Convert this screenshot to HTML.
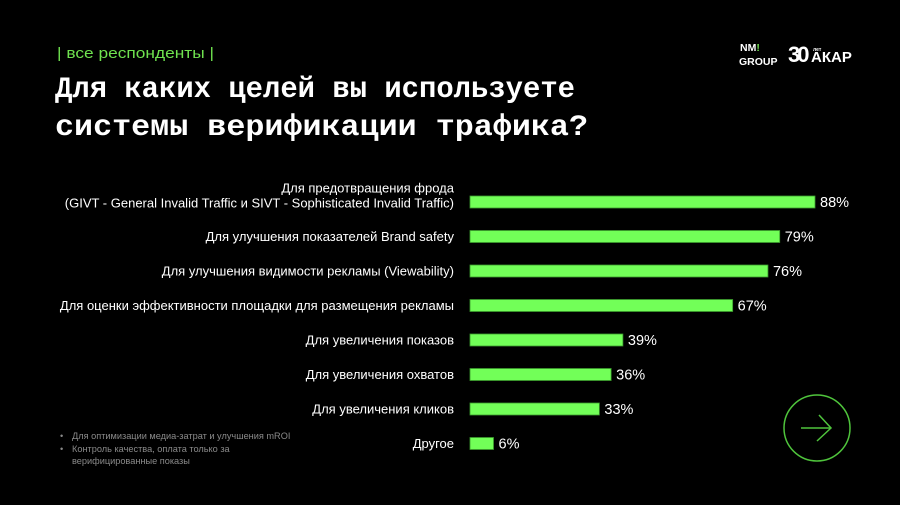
<!DOCTYPE html>
<html><head><meta charset="utf-8"><style>
body{margin:0;background:#000;width:900px;height:505px;overflow:hidden;font-family:"Liberation Sans",sans-serif}
svg{display:block}
</style></head><body>
<svg width="900" height="505" viewBox="0 0 900 505">
<rect width="900" height="505" fill="#000"/>
<text x="57" y="58" fill="#6fe24f" font-size="14.5" textLength="157" lengthAdjust="spacingAndGlyphs">| все респонденты |</text>
<text x="55" y="97" fill="#fff" font-size="30" font-weight="bold" font-family="Liberation Mono, monospace" textLength="520" lengthAdjust="spacingAndGlyphs">Для каких целей вы используете</text>
<text x="55" y="135" fill="#fff" font-size="30" font-weight="bold" font-family="Liberation Mono, monospace" textLength="533" lengthAdjust="spacingAndGlyphs">системы верификации трафика?</text>
<g fill="#fff" font-weight="bold" font-size="10.5">
<text x="740" y="51">NM<tspan fill="#6fe24f">!</tspan></text>
<text x="739" y="65">GROUP</text>
</g>
<g fill="#fff" font-weight="bold">
<text x="788" y="62" font-size="22" letter-spacing="-3">30</text>
<text x="813" y="51" font-size="5">лет</text>
<text x="811" y="62" font-size="15">АКАР</text>
</g>
<g id="bars"></g>
<g fill="#8a8a8a" font-size="9.2">
<text x="60" y="439">•</text><text x="72" y="439">Для оптимизации медиа-затрат и улучшения mROI</text>
<text x="60" y="452">•</text><text x="72" y="452">Контроль качества, оплата только за</text>
<text x="72" y="464">верифицированные показы</text>
</g>
<g>
<circle cx="817" cy="428" r="33" fill="none" stroke="#4fc43c" stroke-width="1.5"/>
<line x1="801" y1="428" x2="831" y2="428" stroke="#4fc43c" stroke-width="1.5"/>
<polyline points="819,415 831,428 817,441" fill="none" stroke="#4fc43c" stroke-width="1.5"/>
</g>
</svg>
<script>
const categories=[["Для предотвращения фрода","(GIVT - General Invalid Traffic и SIVT - Sophisticated Invalid Traffic)"],["Для улучшения показателей Brand safety"],["Для улучшения видимости рекламы (Viewability)"],["Для оценки эффективности площадки для размещения рекламы"],["Для увеличения показов"],["Для увеличения охватов"],["Для увеличения кликов"],["Другое"]];
const values=[88,79,76,67,39,36,33,6];
const valueLabels=["88%","79%","76%","67%","39%","36%","33%","6%"];
const NS="http://www.w3.org/2000/svg";
const g=document.getElementById('bars');
const x0=470,pxPer=345/88;
const xScale=v=>v*pxPer;
const yScale=i=>202+i*34.5;
function mk(t,a){const e=document.createElementNS(NS,t);for(const k in a)e.setAttribute(k,a[k]);return e;}
values.forEach((v,i)=>{
const cy=yScale(i);
const r=mk('rect',{x:x0,y:cy-6,width:xScale(v),height:12,fill:'#72ff58',stroke:'#3a9a2c','stroke-width':0.8});


g.appendChild(r);
const vl=mk('text',{x:x0+xScale(v)+5,y:cy+5,fill:'#fff','font-size':14.5});
vl.textContent=valueLabels[i];


g.appendChild(vl);
const lines=categories[i];
lines.forEach((ln,j)=>{
const t=mk('text',{x:454,y:cy+4.5-(lines.length-1-j)*15+(lines.length>1?1:0),fill:'#fff','font-size':13,'text-anchor':'end'});
t.textContent=ln;


g.appendChild(t);
});
});
</script>
</body></html>
